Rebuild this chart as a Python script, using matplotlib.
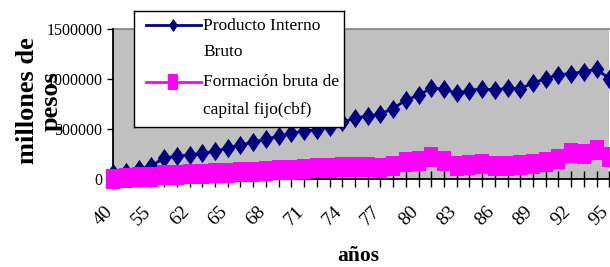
import matplotlib
matplotlib.use("Agg")
import matplotlib.pyplot as plt
from matplotlib.path import Path
import numpy as np

plt.rcParams['font.family'] = ['Liberation Serif', 'DejaVu Serif']

years = ['40', '45', '50', '55', '60', '61', '62', '63', '64', '65',
         '66', '67', '68', '69', '70', '71', '72', '73', '74', '75',
         '76', '77', '78', '79', '80', '81', '82', '83', '84', '85',
         '86', '87', '88', '89', '90', '91', '92', '93', '94', '95']
pib = [60, 70, 97, 130, 210, 225, 240, 255, 275, 310,
       340, 365, 400, 425, 455, 480, 490, 520, 565, 610,
       630, 650, 705, 790, 837, 910, 900, 858, 885, 905,
       888, 912, 905, 960, 1005, 1045, 1055, 1075, 1100, 1005]
fbcf = [3, 8, 15, 22, 35, 40, 45, 50, 55, 60,
        66, 72, 78, 84, 90, 96, 104, 110, 116, 121,
        121, 108, 131, 164, 182, 215, 182, 131, 141, 144,
        127, 127, 138, 151, 173, 194, 255, 252, 285, 222]
pib = [v * 1000 for v in pib]
fbcf = [v * 1000 for v in fbcf]
label_pib = "Producto Interno\nBruto"
label_fbcf = "Formación bruta de\ncapital fijo(cbf)"
yticks = [0, 500000, 1000000, 1500000]

W, H = 610, 267
fig = plt.figure(figsize=(W / 100, H / 100), dpi=100)
fig.patch.set_facecolor('white')

def fx(px):
    return px / W

def fy(py):
    return 1 - py / H

ax = fig.add_axes([fx(113.3), fy(178.8), fx(609.3) - fx(113.3), fy(29.3) - fy(178.8)])
ax.set_facecolor('#C0C0C0')

diamond = Path([(0, 1), (0.7, 0), (0, -1), (-0.7, 0), (0, 1)],
               [Path.MOVETO, Path.LINETO, Path.LINETO, Path.LINETO, Path.CLOSEPOLY])
square = Path([(-0.7, -1), (0.7, -1), (0.7, 1), (-0.7, 1), (-0.7, -1)],
              [Path.MOVETO, Path.LINETO, Path.LINETO, Path.LINETO, Path.CLOSEPOLY])

x = np.arange(len(years))
ax.plot(x, pib, color='#000080', lw=2, marker=diamond, markersize=13.9,
        markeredgewidth=0, clip_on=False, zorder=4)
ax.plot(x, fbcf, color='#FF00FF', lw=2, marker=square, markersize=14.6,
        markeredgewidth=0, clip_on=False, zorder=5)

ax.set_xlim(0, len(years) - 1)
ax.set_ylim(0, 1500000)
ax.set_yticks(yticks)
ax.set_yticklabels([str(v) for v in yticks], fontsize=11.5)
ax.set_xticks(x)
ax.set_xticklabels([])
for i, yr in enumerate(years):
    if i % 3 == 0:
        ax.annotate(yr, xy=(i, 0), xycoords=('data', 'axes fraction'),
                    xytext=(-6.5, -17.5), textcoords='offset points',
                    rotation=45, ha='right', va='top', rotation_mode='anchor',
                    fontsize=14, annotation_clip=False)

ax.tick_params(axis='x', direction='inout', length=11, width=1, color='black')
ax.tick_params(axis='y', direction='out', length=4, width=1, pad=4, color='black')

for s in ['left', 'bottom']:
    ax.spines[s].set_color('black')
    ax.spines[s].set_linewidth(1.3)
    ax.spines[s].set_zorder(3)
ax.spines['top'].set_color('#808080')
ax.spines['top'].set_linewidth(1.2)
ax.spines['right'].set_visible(False)

fig.text(fx(39), fy(101), "millones de\npesos", rotation=90, ha='center', va='center',
         fontsize=19, fontweight='bold', linespacing=1.05)
fig.text(fx(358), fy(256), "años", ha='center', va='center', fontsize=15.5, fontweight='bold')

# legend box
lg = fig.add_axes([fx(134), fy(127), fx(344) - fx(134), fy(11) - fy(127)])
lg.set_xlim(0, 1)
lg.set_ylim(0, 1)
lg.set_xticks([])
lg.set_yticks([])
lg.set_facecolor('white')
lg.set_zorder(10)
for s in lg.spines.values():
    s.set_color('black')
    s.set_linewidth(1)
lg.plot([0.057, 0.319], [0.879, 0.879], color='#000080', lw=2)
lg.plot([0.188], [0.879], color='#000080', marker=diamond, markersize=9.5, markeredgewidth=0)
lg.plot([0.057, 0.319], [0.39, 0.39], color='#FF00FF', lw=2)
lg.plot([0.188], [0.39], color='#FF00FF', marker=square, markersize=11, markeredgewidth=0)
l1 = label_pib.split("\n")
l2 = label_fbcf.split("\n")
fs = 12.5
lg.text(0.329, 0.87, l1[0], va='center', ha='left', fontsize=fs)
lg.text(0.329, 0.649, l1[1], va='center', ha='left', fontsize=fs)
lg.text(0.329, 0.39, l2[0], va='center', ha='left', fontsize=fs)
lg.text(0.329, 0.147, l2[1], va='center', ha='left', fontsize=fs)

fig.savefig("out.png", dpi=100)
